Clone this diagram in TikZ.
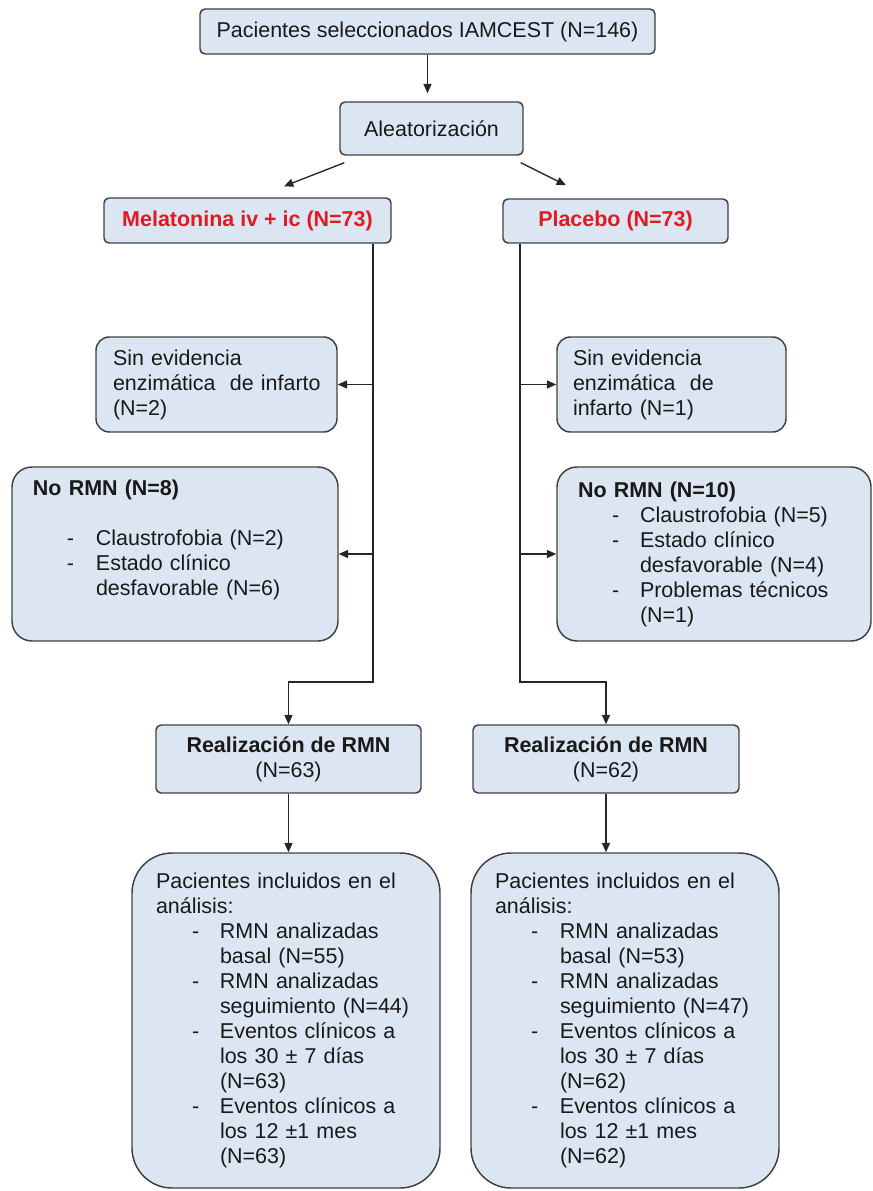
\documentclass[tikz,border=0pt]{standalone}
\usepackage{fontspec}
\setmainfont{Liberation Sans}
\usetikzlibrary{arrows.meta}
\definecolor{boxfill}{RGB}{220,230,242}
\definecolor{boxline}{RGB}{64,64,64}
\definecolor{redtxt}{RGB}{225,25,35}
\definecolor{txt}{RGB}{25,25,25}
\begin{document}
\begin{tikzpicture}[x=0.75pt,y=-0.75pt,
  every node/.style={font=\fontsize{16.1pt}{18.75pt}\selectfont, text=txt},
  box/.style={draw=boxline, fill=boxfill, line width=1.1pt, inner sep=0pt, rounded corners=3.75pt, align=center},
  lbox/.style={box, align=left},
  conn/.style={draw=black!85, line width=1pt},
  arr/.style={conn, -{Triangle[length=7pt,width=6pt]}},
]
\useasboundingbox (0,0) rectangle (873,1191);

% boxes
\node[box, minimum width=341.25pt, minimum height=33.75pt] (top) at (427.5,31.5) {Pacientes seleccionados IAMCEST (N=146)};
\node[box, minimum width=137.25pt, minimum height=39.75pt] (alea) at (431.5,128.5) {Aleatorización};
\node[box, minimum width=215.25pt, minimum height=33.75pt, text=redtxt, font=\fontsize{16.1pt}{18.75pt}\selectfont\bfseries] (mel) at (247.5,220.5) {Melatonina iv + ic (N=73)};
\node[box, minimum width=168.75pt, minimum height=33pt, text=redtxt, font=\fontsize{16.1pt}{18.75pt}\selectfont\bfseries] (plac) at (615.5,221) {Placebo (N=73)};

\node[lbox, text width=180.75pt, minimum height=71.25pt, rounded corners=10pt] (sin1) at (216.5,384.5)
  {\leftskip=12.75pt\relax Sin evidencia\\enzimática\ \ de infarto\\(N=2)\par};
\node[lbox, text width=171.75pt, minimum height=71.25pt, rounded corners=10pt] (sin2) at (671.5,384.5)
  {\leftskip=12pt\relax Sin evidencia\\enzimática\ \ de\\infarto (N=1)\par};

\node[lbox, text width=244.5pt, minimum height=130.5pt, rounded corners=15pt] (normn1) at (175,554)
  {\leftskip=15.75pt\relax \textbf{No RMN (N=8)}\\[18.75pt]
   \hspace*{25.5pt}\makebox[21.75pt][l]{-}Claustrofobia (N=2)\\
   \hspace*{25.5pt}\makebox[21.75pt][l]{-}Estado clínico\\
   \hspace*{47.25pt}desfavorable (N=6)\\
   \strut\par};
\node[lbox, text width=235.5pt, minimum height=130.5pt, rounded corners=15pt] (normn2) at (714,554)
  {\leftskip=15.75pt\relax \textbf{No RMN (N=10)}\\
   \hspace*{25.5pt}\makebox[21pt][l]{-}Claustrofobia (N=5)\\
   \hspace*{25.5pt}\makebox[21pt][l]{-}Estado clínico\\
   \hspace*{46.5pt}desfavorable (N=4)\\
   \hspace*{25.5pt}\makebox[21pt][l]{-}Problemas técnicos\\
   \hspace*{46.5pt}(N=1)\par};

\node[box, minimum width=198.75pt, minimum height=51pt] (real1) at (288.5,759) {\textbf{Realización de RMN}\\(N=63)};
\node[box, minimum width=199.5pt, minimum height=51pt] (real2) at (606,759) {\textbf{Realización de RMN}\\(N=62)};

\node[lbox, text width=231pt, minimum height=251.25pt, rounded corners=30pt] (inc1) at (286,1020.5)
  {\leftskip=18pt\relax Pacientes incluidos en el\\análisis:\\
   \hspace*{27pt}\makebox[21pt][l]{-}RMN analizadas\\
   \hspace*{48pt}basal (N=55)\\
   \hspace*{27pt}\makebox[21pt][l]{-}RMN analizadas\\
   \hspace*{48pt}seguimiento (N=44)\\
   \hspace*{27pt}\makebox[21pt][l]{-}Eventos clínicos a\\
   \hspace*{48pt}los 30 ± 7 días\\
   \hspace*{48pt}(N=63)\\
   \hspace*{27pt}\makebox[21pt][l]{-}Eventos clínicos a\\
   \hspace*{48pt}los 12 ±1 mes\\
   \hspace*{48pt}(N=63)\par};
\node[lbox, text width=231pt, minimum height=251.25pt, rounded corners=30pt] (inc2) at (625,1020.5)
  {\leftskip=18pt\relax Pacientes incluidos en el\\análisis:\\
   \hspace*{27pt}\makebox[21.75pt][l]{-}RMN analizadas\\
   \hspace*{48.75pt}basal (N=53)\\
   \hspace*{27pt}\makebox[21.75pt][l]{-}RMN analizadas\\
   \hspace*{48.75pt}seguimiento (N=47)\\
   \hspace*{27pt}\makebox[21.75pt][l]{-}Eventos clínicos a\\
   \hspace*{48.75pt}los 30 ± 7 días\\
   \hspace*{48.75pt}(N=62)\\
   \hspace*{27pt}\makebox[21.75pt][l]{-}Eventos clínicos a\\
   \hspace*{48.75pt}los 12 ±1 mes\\
   \hspace*{48.75pt}(N=62)\par};

% connectors
\coordinate (tl) at (373,682);
\coordinate (tr) at (520,682);
\draw[arr, shorten >=6pt] (top.south) -- (top.south |- alea.north);
\draw[arr] ([shift={(5,7)}]alea.south west) -- ([shift={(36.5,-11)}]mel.north);
\draw[arr] ([shift={(-3,7)}]alea.south east) -- ([shift={(-49.5,-13)}]plac.north);

\draw[arr] (mel.south -| tl) -- (tl) -| (real1.north);
\draw[arr] (sin1.east -| tl) -- (sin1.east);
\draw[arr] (normn1.east -| tl) -- (normn1.east);

\draw[arr] (plac.south -| tr) -- (tr) -| (real2.north);
\draw[arr] (sin2.west -| tr) -- (sin2.west);
\draw[arr] (normn2.west -| tr) -- (normn2.west);

\draw[arr] (real1.south) -- (real1.south |- inc1.north);
\draw[arr] (real2.south) -- (real2.south |- inc2.north);
\end{tikzpicture}
\end{document}
